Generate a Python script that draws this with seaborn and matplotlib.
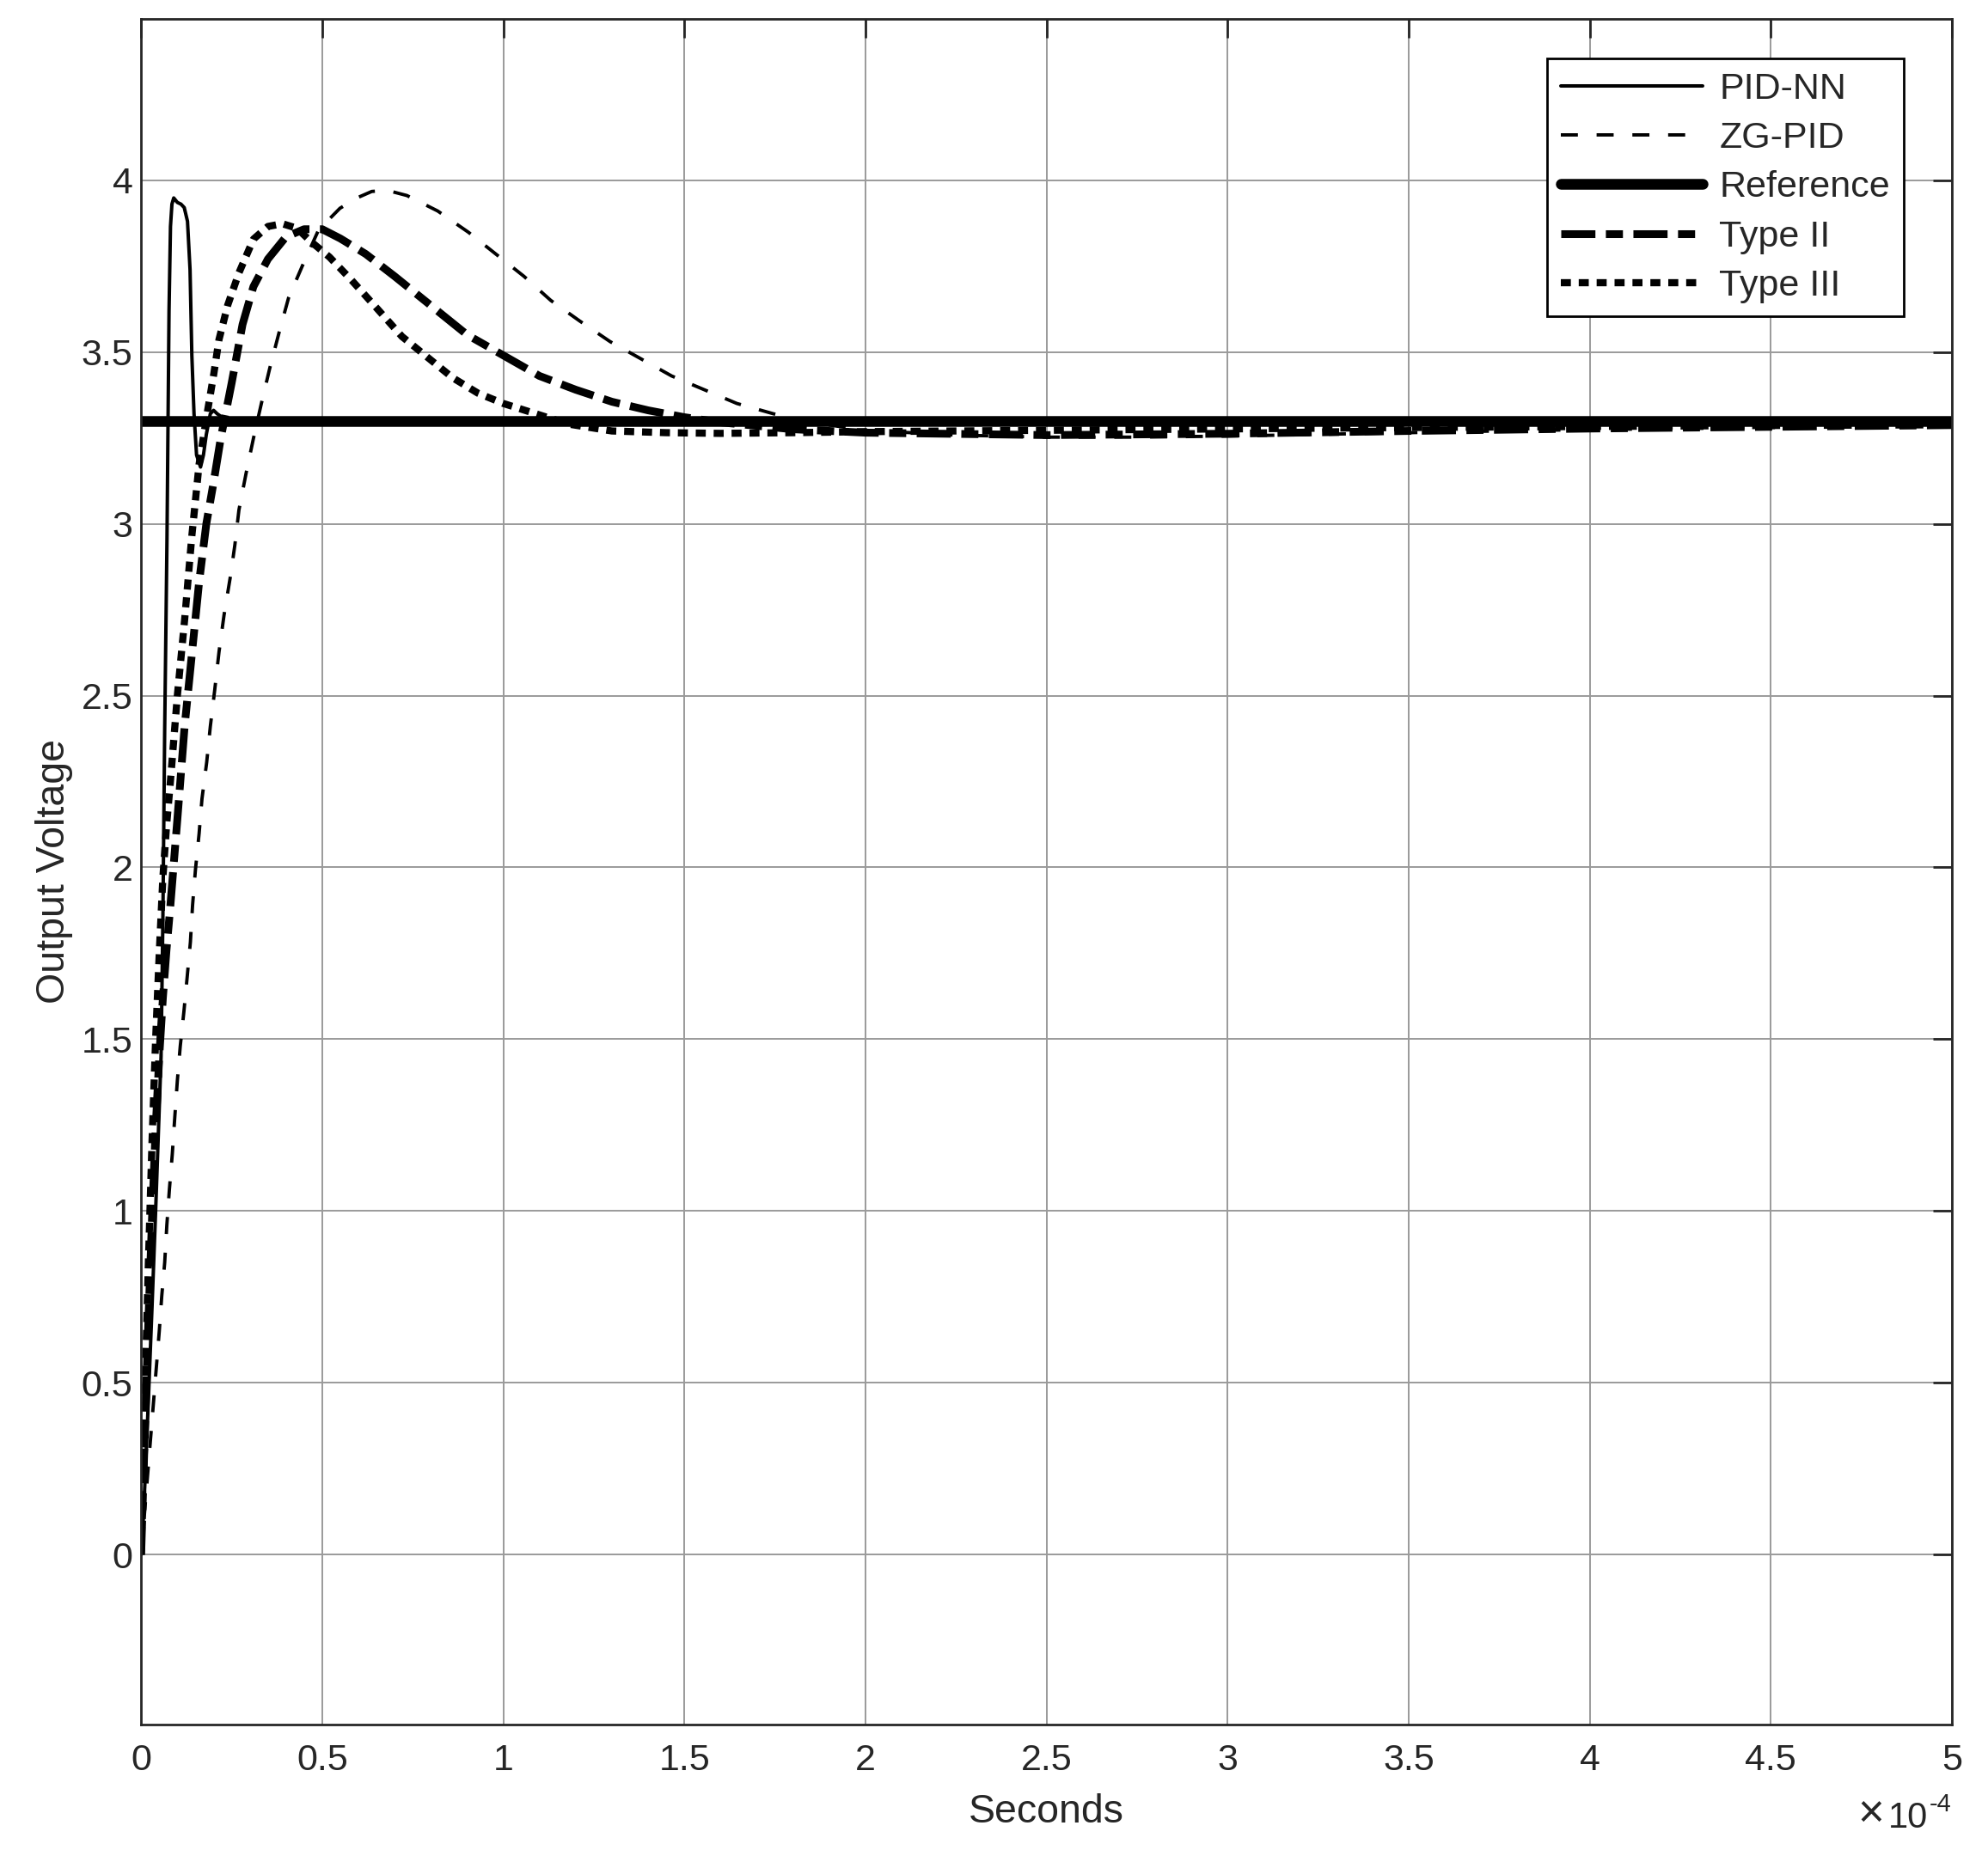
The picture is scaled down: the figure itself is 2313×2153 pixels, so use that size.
import seaborn as sns
import matplotlib.pyplot as plt

# time values are in units of 1e-4 s (axis shows x10^-4)
pidnn_t = [0, 0.005, 0.01, 0.02, 0.03, 0.04, 0.05, 0.055, 0.06, 0.065, 0.0713, 0.077, 0.081,
           0.085, 0.09, 0.1, 0.11, 0.119, 0.128, 0.135, 0.14, 0.146, 0.153, 0.164, 0.172,
           0.18, 0.191, 0.2, 0.21, 0.23, 0.26, 0.3, 0.4, 0.6, 1.0, 2.0, 3.0, 4.0, 5.0]
pidnn_v = [0, 0.08, 0.2, 0.45, 0.72, 1.0, 1.3, 1.45, 1.85, 2.4, 2.95, 3.62, 3.865,
           3.93, 3.948, 3.935, 3.93, 3.92, 3.88, 3.74, 3.49, 3.32, 3.2, 3.165, 3.2,
           3.26, 3.32, 3.33, 3.32, 3.305, 3.3, 3.3, 3.3, 3.3, 3.3, 3.3, 3.3, 3.3, 3.3]

zgpid_t = [0, 0.01, 0.02, 0.03, 0.04, 0.05, 0.057, 0.065, 0.071, 0.078, 0.086, 0.093, 0.1,
           0.108, 0.118, 0.127, 0.136, 0.142, 0.15, 0.16, 0.168, 0.181, 0.191, 0.203, 0.215,
           0.229, 0.247, 0.259, 0.27, 0.29, 0.31, 0.332, 0.355, 0.381, 0.407, 0.445, 0.49,
           0.549, 0.6, 0.637, 0.68, 0.734, 0.819, 0.904, 0.978, 1.057, 1.131, 1.211, 1.295,
           1.38, 1.465, 1.555, 1.645, 1.746, 1.85, 2.0, 2.25, 2.5, 2.75, 3.0, 3.25, 3.5,
           3.75, 4.0, 4.5, 5.0]
zgpid_v = [0, 0.13, 0.26, 0.39, 0.52, 0.65, 0.754, 0.85, 0.96, 1.063, 1.166, 1.275, 1.38,
           1.48, 1.58, 1.68, 1.783, 1.89, 1.994, 2.098, 2.2, 2.306, 2.41, 2.515, 2.627,
           2.735, 2.85, 2.94, 3.04, 3.148, 3.248, 3.35, 3.452, 3.557, 3.657, 3.75, 3.855,
           3.918, 3.95, 3.967, 3.97, 3.955, 3.91, 3.848, 3.786, 3.72, 3.65, 3.59, 3.53,
           3.48, 3.43, 3.39, 3.35, 3.32, 3.295, 3.272, 3.258, 3.252, 3.252, 3.255, 3.26,
           3.265, 3.27, 3.274, 3.28, 3.285]

ref_t = [0, 5]
ref_v = [3.3, 3.3]

type2_t = [0, 0.01, 0.02, 0.03, 0.04, 0.05, 0.06, 0.07, 0.08, 0.1, 0.12, 0.14, 0.16, 0.18,
           0.2, 0.22, 0.25, 0.28, 0.31, 0.35, 0.4, 0.45, 0.5, 0.55, 0.62, 0.7, 0.8, 0.9,
           1.0, 1.1, 1.2, 1.3, 1.4, 1.5, 1.6, 1.8, 2.0, 2.5, 3.0, 3.5, 4.0, 4.5, 5.0]
type2_v = [0, 0.35, 0.68, 0.98, 1.24, 1.45, 1.62, 1.76, 1.88, 2.14, 2.41, 2.62, 2.83, 3.0,
           3.12, 3.25, 3.41, 3.58, 3.69, 3.77, 3.835, 3.857, 3.857, 3.83, 3.785, 3.72, 3.635,
           3.55, 3.49, 3.43, 3.39, 3.355, 3.33, 3.31, 3.295, 3.275, 3.265, 3.258, 3.262,
           3.27, 3.277, 3.282, 3.287]

type3_t = [0, 0.01, 0.02, 0.03, 0.04, 0.05, 0.06, 0.07, 0.08, 0.1, 0.12, 0.14, 0.16, 0.184,
           0.2, 0.215, 0.239, 0.27, 0.31, 0.35, 0.39, 0.43, 0.47, 0.52, 0.58, 0.65, 0.72,
           0.79, 0.86, 0.93, 1.0, 1.09, 1.18, 1.3, 1.45, 1.6, 1.8, 2.0, 2.5, 3.0, 3.5, 4.0,
           4.5, 5.0]
type3_v = [0, 0.45, 0.85, 1.2, 1.5, 1.75, 1.97, 2.12, 2.24, 2.5, 2.72, 2.965, 3.173, 3.332,
           3.432, 3.536, 3.636, 3.73, 3.828, 3.865, 3.873, 3.86, 3.82, 3.776, 3.71, 3.628,
           3.545, 3.485, 3.425, 3.38, 3.35, 3.32, 3.29, 3.27, 3.265, 3.263, 3.265, 3.268,
           3.272, 3.276, 3.28, 3.283, 3.286, 3.288]

sns.set_style("white")
plt.rcParams['font.family'] = ['Liberation Sans', 'DejaVu Sans']

dark = '#262626'
fig = plt.figure(figsize=(23.13, 21.53), dpi=100)
ax = fig.add_axes([0.0710, 0.0680, 0.9108, 0.9216])

common = dict(ax=ax, color='black', sort=False, estimator=None)
sns.lineplot(x=pidnn_t, y=pidnn_v, linewidth=2.9, linestyle='-', label='PID-NN', **common)
sns.lineplot(x=zgpid_t, y=zgpid_v, linewidth=2.8, linestyle=(0, (5.1, 5.6)), label='ZG-PID', **common)
sns.lineplot(x=ref_t, y=ref_v, linewidth=9, linestyle='-', label='Reference', **common)
sns.lineplot(x=type2_t, y=type2_v, linewidth=6.5, linestyle=(0, (4.4, 1.35, 2.2, 1.35)),
             label='Type II', **common)
sns.lineplot(x=type3_t, y=type3_v, linewidth=6, linestyle=(0, (1.4, 1.1)), label='Type III', **common)

ax.set_xlim(0, 5)
ax.set_ylim(-0.493, 4.468)
ax.set_xticks([i * 0.5 for i in range(11)])
ax.set_xticklabels(['0', '0.5', '1', '1.5', '2', '2.5', '3', '3.5', '4', '4.5', '5'])
ax.set_yticks([i * 0.5 for i in range(9)])
ax.set_yticklabels(['0', '0.5', '1', '1.5', '2', '2.5', '3', '3.5', '4'])

ax.set_axisbelow(True)
ax.grid(True, color='#9a9a9a', linewidth=1.4)
for s in ax.spines.values():
    s.set_visible(True)
    s.set_color(dark)
    s.set_linewidth(2)
ax.tick_params(axis='both', direction='in', length=15.5, width=2, color=dark,
               top=True, right=True, labelsize=31, labelcolor=dark)
ax.tick_params(axis='x', pad=16)
ax.tick_params(axis='y', pad=7)

ax.set_xlabel('Seconds', fontsize=33.5, color=dark, labelpad=13)
ax.set_ylabel('Output Voltage', fontsize=33.5, color=dark, labelpad=7)

# exponent label like MATLAB
fig.text(2192 / 2313, 0.0122, '\u00d7', fontsize=38, color=dark, ha='right', va='baseline')
fig.text(2243 / 2313, 0.0122, '10', fontsize=30, color=dark, ha='right', va='baseline')
fig.text(2245 / 2313, 0.0208, '-4', fontsize=21, color=dark, ha='left', va='baseline')

leg = ax.legend(loc='upper right', bbox_to_anchor=(0.9733, 0.9768), borderaxespad=0,
                fontsize=31, handlelength=3.84, handletextpad=0.45, labelspacing=0.4,
                borderpad=0.36, fancybox=False, framealpha=1, edgecolor='black')
leg.get_frame().set_linewidth(2)
for t in leg.get_texts():
    t.set_color(dark)

fig.savefig('out.png', dpi=100)
